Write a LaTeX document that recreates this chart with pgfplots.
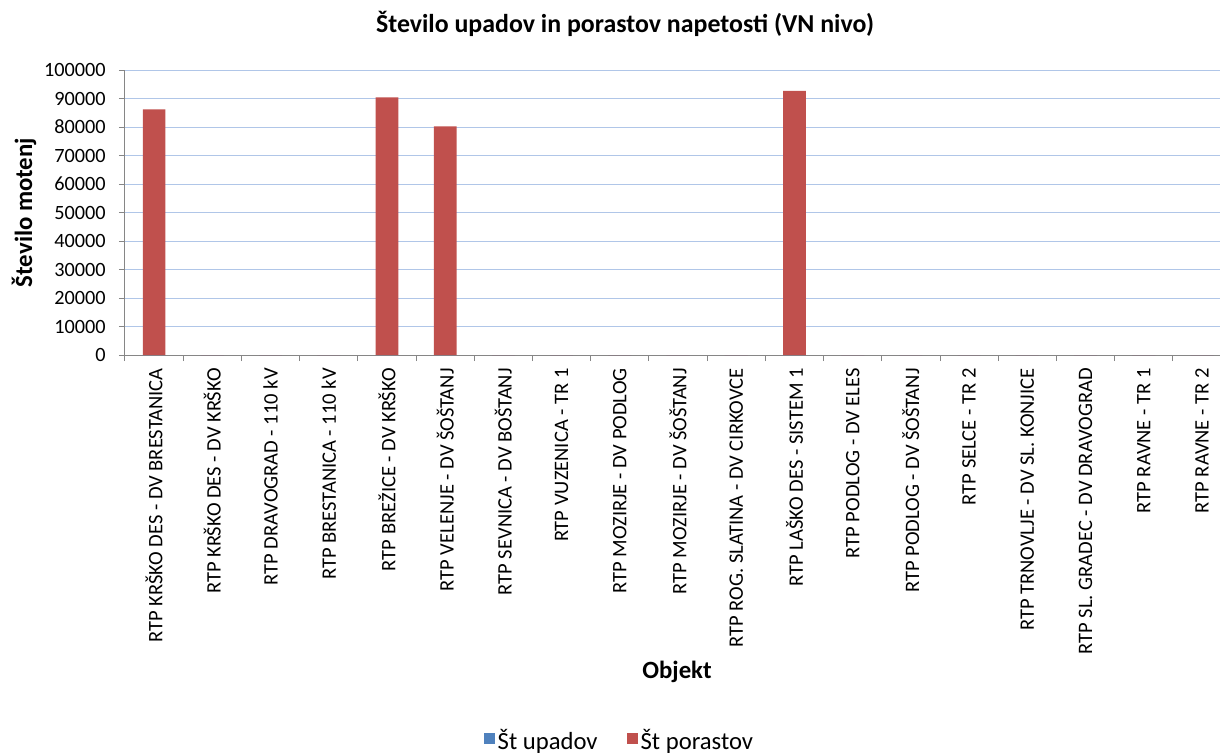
\documentclass[border=0pt]{standalone}
\usepackage{fontspec}
\setmainfont{Carlito}
\usepackage{pgfplots}
\pgfplotsset{compat=1.18}
\definecolor{upad}{RGB}{79,129,189}
\definecolor{porast}{RGB}{192,80,77}
\definecolor{gridc}{RGB}{176,198,232}
\definecolor{axisc}{RGB}{134,134,134}

\begin{document}
\begin{tikzpicture}
\path[use as bounding box] (-93.75pt,-298.5pt) rectangle (821.25pt,266.25pt);
\begin{axis}[
    at={(0,0)}, anchor=south west,
    width=821.25pt, height=213.75pt, scale only axis,
    ybar, bar width=0.39,
    every axis plot/.append style={bar shift=0pt, draw=none},
    xmin=-0.5, xmax=18.31,
    ymin=0, ymax=100000,
    scaled y ticks=false,
    ytick={0,10000,20000,30000,40000,50000,60000,70000,80000,90000,100000},
    yticklabels={0,10000,20000,30000,40000,50000,60000,70000,80000,90000,100000},
    minor ytick={0,10000,20000,30000,40000,50000,60000,70000,80000,90000,100000},
    xtick={0,1,2,3,4,5,6,7,8,9,10,11,12,13,14,15,16,17,18},
    xticklabels={RTP KRŠKO DES - DV BRESTANICA,RTP KRŠKO DES - DV KRŠKO,RTP DRAVOGRAD - 110 kV,RTP BRESTANICA - 110 kV,RTP BREŽICE - DV KRŠKO,RTP VELENJE - DV ŠOŠTANJ,RTP SEVNICA - DV BOŠTANJ,RTP VUZENICA - TR 1,RTP MOZIRJE - DV PODLOG,RTP MOZIRJE - DV ŠOŠTANJ,RTP ROG. SLATINA - DV CIRKOVCE,RTP LAŠKO DES - SISTEM 1,RTP PODLOG - DV ELES,RTP PODLOG - DV ŠOŠTANJ,RTP SELCE - TR 2,RTP TRNOVLJE - DV SL. KONJICE,RTP SL. GRADEC - DV DRAVOGRAD,RTP RAVNE - TR 1,RTP RAVNE - TR 2},
    minor xtick={-0.5,0.5,1.5,2.5,3.5,4.5,5.5,6.5,7.5,8.5,9.5,10.5,11.5,12.5,13.5,14.5,15.5,16.5,17.5},
    axis x line=bottom, axis y line=left,
    axis line style={-, axisc, line width=0.75pt},
    tick style={axisc, line width=0.75pt},
    tick align=outside,
    major tick length=0pt,
    minor tick length=4.5pt,
    ymajorgrids,
    grid style={gridc, line width=0.75pt},
    xticklabel style={rotate=90, anchor=east, inner sep=0pt, font=\fontsize{15.4}{17}\selectfont},
    xticklabel shift=9.75pt,
    yticklabel style={inner sep=0pt, font=\fontsize{15.2}{17}\selectfont},
    yticklabel shift=14.25pt,
    legend style={at={(0.452,-1.351)}, anchor=center, draw=none, fill=none,
        legend columns=2, font=\fontsize{18.5}{21}\selectfont,
        /tikz/every even column/.append style={column sep=20pt}},
    legend image code/.code={\fill[#1] (-2.5pt,-3.1pt) rectangle (5.75pt,5.1pt);},
]
\addplot[fill=upad] coordinates {
    (0,0) (1,0) (2,0) (3,0) (4,0) (5,0) (6,0) (7,0) (8,0) (9,0)
    (10,0) (11,0) (12,0) (13,0) (14,0) (15,0) (16,0) (17,0) (18,0)
};
\addlegendentry{Št upadov}
\addplot[fill=porast] coordinates {
    (0,86200) (1,0) (2,0) (3,0) (4,90400) (5,80200) (6,0) (7,0) (8,0) (9,0)
    (10,0) (11,92700) (12,0) (13,0) (14,0) (15,0) (16,0) (17,0) (18,0)
};
\addlegendentry{Št porastov}
\end{axis}
\node[anchor=base, font=\bfseries\fontsize{19.4}{22}\selectfont] at (375pt,241.5pt) {Število upadov in porastov napetosti (VN nivo)};
\node[anchor=base, font=\bfseries\fontsize{18.6}{21}\selectfont] at (414pt,-242.25pt) {Objekt};
\node[rotate=90, font=\bfseries\fontsize{18.6}{21}\selectfont] at (-75.75pt,106.875pt) {Število motenj};
\end{tikzpicture}
\end{document}
